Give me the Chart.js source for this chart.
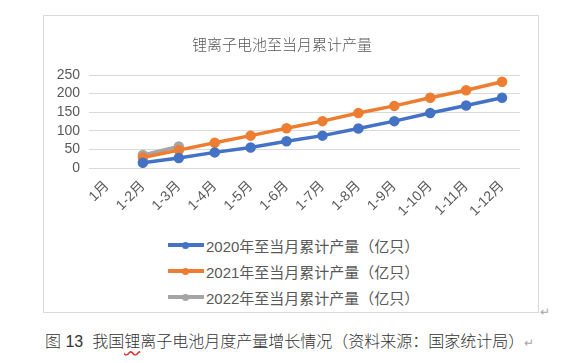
<!DOCTYPE html>
<html>
<head>
<meta charset="utf-8">
<script src="https://cdn.jsdelivr.net/npm/chart.js@4"></script>
<style>
  body{ margin:0; width:574px; height:363px; background:#fff; position:relative; overflow:hidden;
        font-family:"Liberation Sans","Noto Sans CJK SC",sans-serif; }
  #box{ position:absolute; left:43px; top:15px; width:496px; height:298px; border:1px solid #d9d9d9; box-sizing:border-box; }
  #wrap{ position:absolute; left:0; top:0; width:494px; height:215px; }
  #legend{ position:absolute; left:124px; top:216px; }
  .item{ height:26px; display:flex; align-items:center; font-size:15px; color:#595959; }
  .swatch{ position:relative; width:36px; height:4px; margin-right:2px; }
  .swatch i{ position:absolute; left:14px; top:-1.5px; width:7px; height:7px; border-radius:50%; }
  .ret{ position:absolute; color:#a6a6a6; font-size:12px; }
  #caption{ position:absolute; left:45px; top:328px; font-size:16px; font-weight:300; color:#333; white-space:nowrap; }
  .wavy{ text-decoration:underline wavy #e03030; text-underline-offset:3px; }
</style>
</head>
<body>
<div id="box">
  <div id="wrap"><canvas id="c"></canvas></div>
  <div id="legend"></div>
</div>
<span class="ret" style="left:540px;top:305px;">↵</span>
<div id="caption">图 13&nbsp; 我国<span class="wavy">锂</span>离子电池月度产量增长情况（资料来源：国家统计局）<span style="color:#a6a6a6;font-size:12px;">↵</span></div>
<script>
// months (cumulative periods)
const categories = ['1月','1-2月','1-3月','1-4月','1-5月','1-6月','1-7月','1-8月','1-9月','1-10月','1-11月','1-12月'];
// 亿只
const y2020 = [null, 14, 27, 42, 55, 72, 87, 106, 126, 148, 168, 189];
const y2021 = [null, 28, 48, 68, 87, 107, 126, 148, 167, 189, 209, 232];
const y2022 = [null, 35, 58, null, null, null, null, null, null, null, null, null];
const seriesNames = ['2020年至当月累计产量（亿只）','2021年至当月累计产量（亿只）','2022年至当月累计产量（亿只）'];
const colors = ['#4472C4','#ED7D31','#A5A5A5'];
const yTicks = [0, 50, 100, 150, 200, 250];

const mk = (label, data, color) => ({
  label, data, borderColor: color, backgroundColor: color,
  borderWidth: 3.5, pointRadius: 3.5, pointBackgroundColor: color, pointBorderColor: color,
  tension: 0, spanGaps: false
});

const chart = new Chart(document.getElementById('c'), {
  type: 'line',
  data: {
    labels: categories,
    datasets: [mk(seriesNames[0], y2020, colors[0]), mk(seriesNames[1], y2021, colors[1]), mk(seriesNames[2], y2022, colors[2])]
  },
  options: {
    responsive: true, maintainAspectRatio: false, animation: false,
    layout: { padding: { left: 0, right: 18, top: 0, bottom: 0 } },
    plugins: {
      legend: { display: false },
      tooltip: { enabled: false },
      title: { display: true, text: '锂离子电池至当月累计产量', color: '#595959',
               font: { size: 15, family: '"Noto Sans CJK SC", sans-serif', weight: '300' },
               padding: { top: 19, bottom: 22 } }
    },
    scales: {
      x: {
        offset: true,
        grid: { display: false },
        border: { display: false },
        ticks: { color: '#595959', minRotation: 45, maxRotation: 45, padding: 2, autoSkip: false,
                 font: { size: 14, family: '"Liberation Sans","Noto Sans CJK SC",sans-serif' } },
        afterFit: s => { s.height = 63; }
      },
      y: {
        min: 0, max: 250,
        afterBuildTicks: s => { s.ticks = yTicks.map(v => ({ value: v })); },
        grid: { color: '#d9d9d9', drawTicks: false },
        border: { display: false },
        ticks: { color: '#595959', padding: 9, autoSkip: false,
                 font: { size: 14, family: '"Liberation Sans",sans-serif' } },
        afterFit: s => { s.width = 45; }
      }
    }
  }
});

// vertical legend
const lg = document.getElementById('legend');
chart.data.datasets.forEach(ds => {
  const row = document.createElement('div');
  row.className = 'item';
  row.innerHTML = `<span class="swatch" style="background:${ds.borderColor}"><i style="background:${ds.borderColor}"></i></span>${ds.label}`;
  lg.appendChild(row);
});
</script>
</body>
</html>
